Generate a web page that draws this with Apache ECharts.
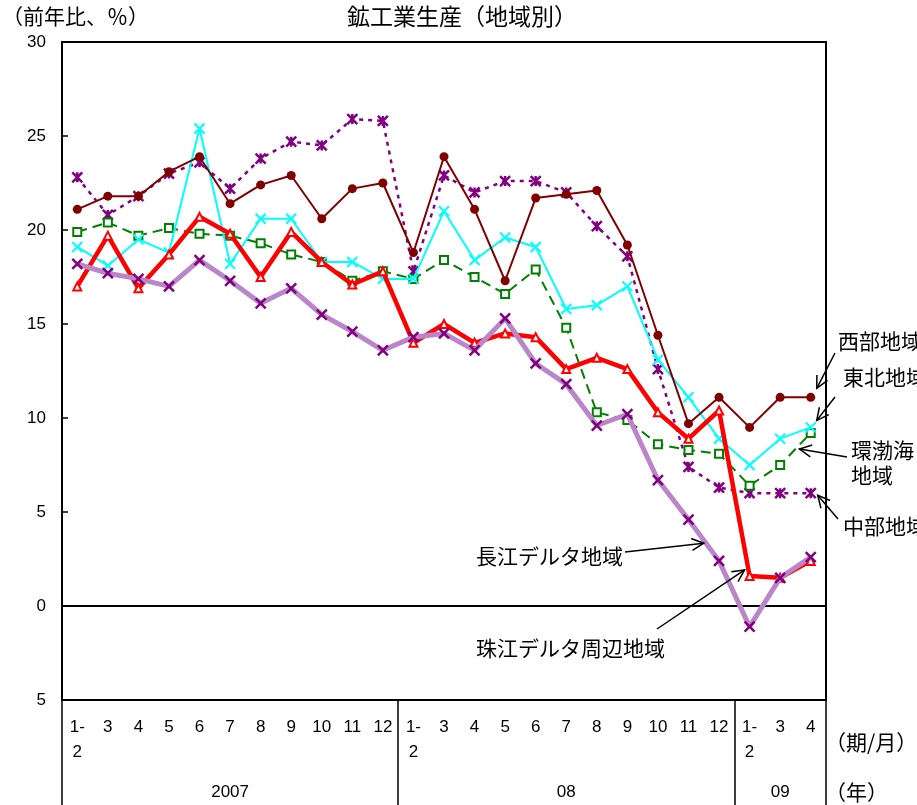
<!DOCTYPE html>
<html><head><meta charset="utf-8">
<script src="https://cdn.jsdelivr.net/npm/echarts@6/dist/echarts.min.js"></script>
<style>html,body{margin:0;padding:0;background:#fff}#c{width:917px;height:805px}</style>
</head><body><div id="c"></div>
<script>
// ---- data ----
const categories = ['1-\n2','3','4','5','6','7','8','9','10','11','12',
                    '1-\n2','3','4','5','6','7','8','9','10','11','12',
                    '1-\n2','3','4'];
const yearNames = ['2007','08','09'];
const yearSpans = [11,11,3];
const west      = [21.1,21.8,21.8,23.1,23.9,21.4,22.4,22.9,20.6,22.2,22.5, 18.8,23.9,21.1,17.3,21.7,21.9,22.1,19.2,14.4,9.7,11.1, 9.5,11.1,11.1];
const northeast = [19.1,18.1,19.5,18.8,25.4,18.2,20.6,20.6,18.3,18.3,17.4, 17.4,21.0,18.4,19.6,19.1,15.8,16.0,17.0,13.1,11.1,8.9, 7.5,8.9,9.5];
const bohai     = [19.9,20.4,19.7,20.1,19.8,19.7,19.3,18.7,18.3,17.3,17.8, 17.4,18.4,17.5,16.6,17.9,14.8,10.3,9.9,8.6,8.3,8.1, 6.4,7.5,9.2];
const central   = [22.8,20.8,21.8,23.0,23.6,22.2,23.8,24.7,24.5,25.9,25.8, 17.8,22.9,22.0,22.6,22.6,22.0,20.2,18.6,12.6,7.4,6.3, 6.0,6.0,6.0];
const yangtze   = [17.0,19.7,16.9,18.7,20.7,19.8,17.5,19.9,18.3,17.1,17.8, 14.0,15.0,14.0,14.5,14.3,12.6,13.2,12.6,10.3,8.9,10.4, 1.6,1.5,2.4];
const pearl     = [18.2,17.7,17.4,17.0,18.4,17.3,16.1,16.9,15.5,14.6,13.6, 14.3,14.5,13.6,15.3,12.9,11.8,9.6,10.2,6.7,4.6,2.4, -1.1,1.5,2.6];
const yMin = -5, yMax = 30, yStep = 5;

// year row of the axis: label at the middle of each group
const yearRow = [];
yearSpans.forEach((n, g) => { for (let i = 0; i < n; i++) yearRow.push(i === Math.floor(n / 2) ? yearNames[g] : ''); });
const groupStarts = [];
yearSpans.reduce((acc, n) => { groupStarts.push(acc); return acc + n; }, 0);

const NUM = "'Liberation Sans', Arial, sans-serif";
const CJK = "'Noto Sans CJK JP', sans-serif";
const X_PATH = 'path://M0,0L10,10M10,0L0,10';
const AST_PATH = 'path://M0,0L10,10M10,0L0,10M5,0L5,10';

const chart = echarts.init(document.getElementById('c'), null, {renderer: 'canvas'});

function lineSeries(name, data, color, width, type, symbol, size, itemStyle, z) {
  return {
    name, type: 'line', data, z,
    showAllSymbol: true, symbol, symbolSize: size,
    lineStyle: {color, width, type},
    itemStyle,
    emphasis: {disabled: true}
  };
}

chart.setOption({
  animation: false,
  grid: {left: 62, right: 91, top: 42, bottom: 105, show: true, borderColor: '#000', borderWidth: 2, backgroundColor: 'transparent'},
  xAxis: [{
    type: 'category', data: categories, boundaryGap: true, position: 'bottom',
    axisLine: {show: true, onZero: false, lineStyle: {color: '#000', width: 2}},
    axisTick: {show: true, inside: false, length: 105, interval: (i) => groupStarts.includes(i), lineStyle: {color: '#000', width: 1.5}},
    axisLabel: {interval: 0, fontFamily: NUM, fontSize: 17, color: '#000', lineHeight: 25, margin: 15},
    splitLine: {show: false}
  }, {
    type: 'category', data: yearRow, boundaryGap: true, position: 'bottom',
    axisLine: {show: false, onZero: false}, axisTick: {show: false},
    axisLabel: {interval: 0, fontFamily: NUM, fontSize: 17, color: '#000', lineHeight: 20, margin: 82},
    splitLine: {show: false}
  }],
  yAxis: {
    type: 'value', min: yMin, max: yMax, interval: yStep,
    axisLine: {show: true, onZero: false, lineStyle: {color: '#000', width: 2}},
    axisTick: {show: true, inside: true, length: 6, lineStyle: {color: '#000', width: 1.5}},
    axisLabel: {fontFamily: NUM, fontSize: 17, color: '#000', margin: 16, formatter: (v) => String(Math.abs(v))},
    splitLine: {show: false}
  },
  series: [
    Object.assign(lineSeries('中部地域', central, '#800080', 2.5, [4, 5], AST_PATH, 10,
      {color: '#800080', borderColor: '#800080', borderWidth: 2.5}, 2), {
      markLine: {silent: true, symbol: 'none', z: 1, label: {show: false},
        lineStyle: {color: '#000', width: 2, type: 'solid'}, data: [{yAxis: 0}]}
    }),
    lineSeries('環渤海地域', bohai, '#008000', 2, [10, 6], 'emptyRect', 8,
      {color: '#008000', borderColor: '#008000', borderWidth: 2}, 3),
    lineSeries('東北地域', northeast, '#00FFFF', 2, 'solid', X_PATH, 10,
      {color: '#00FFFF', borderColor: '#00FFFF', borderWidth: 2}, 4),
    lineSeries('西部地域', west, '#800000', 2, 'solid', 'circle', 9,
      {color: '#800000'}, 5),
    lineSeries('長江デルタ地域', yangtze, '#FF0000', 4.5, 'solid', 'emptyTriangle', 8,
      {color: '#FF0000', borderColor: '#FF0000', borderWidth: 1.5}, 6),
    lineSeries('珠江デルタ周辺地域', pearl, '#BA86C9', 5, 'solid', X_PATH, 10,
      {color: '#800080', borderColor: '#800080', borderWidth: 2.5}, 7)
  ]
});

// ---- annotations (text + arrows anchored to data points) ----
function px(i, v) { return chart.convertToPixel({xAxisIndex: 0, yAxisIndex: 0}, [i, v]); }
function arrow(tail, tip) {
  const dx = tip[0] - tail[0], dy = tip[1] - tail[1];
  const L = Math.hypot(dx, dy), ux = dx / L, uy = dy / L;
  const hl = 12, hw = 6;
  const bx = tip[0] - ux * hl, by = tip[1] - uy * hl;
  return [
    {type: 'line', shape: {x1: tail[0], y1: tail[1], x2: tip[0], y2: tip[1]}, style: {stroke: '#000', lineWidth: 1.5}, z: 20},
    {type: 'polyline', shape: {points: [[bx - uy * hw, by + ux * hw], tip, [bx + uy * hw, by - ux * hw]]}, style: {stroke: '#000', lineWidth: 1.5, fill: null}, z: 20}
  ];
}
function add(p, d) { return [p[0] + d[0], p[1] + d[1]]; }
function mid(a, b) { return [(a[0] + b[0]) / 2, (a[1] + b[1]) / 2]; }
function txt(text, x, y, size, align, lh) {
  return {type: 'text', x, y, z: 20, style: {text, fontFamily: CJK, fontSize: size, fill: '#000', align: align || 'left', verticalAlign: 'middle', lineHeight: lh || size * 1.2}};
}
const n = categories.length;
const g = [];
g.push(txt('鉱工業生産（地域別）', 462, 16, 23, 'center'));
g.push(txt('（前年比、％）', 2, 16, 21, 'left'));
g.push(txt('（期/月）', 825, 742, 21, 'left'));
g.push(txt('（年）', 825, 792, 21, 'left'));
g.push(txt('西部地域', 838, 341, 21));
g.push(txt('東北地域', 843, 377, 21));
g.push(txt('環渤海\n地域', 851, 463, 21, 'left', 25));
g.push(txt('中部地域', 843, 526, 21));
g.push(txt('長江デルタ地域', 476, 556, 21));
g.push(txt('珠江デルタ周辺地域', 476, 648, 21));
g.push(...arrow([835, 353], add(px(n - 1, west[n - 1]), [6, -9])));
g.push(...arrow([835, 397], add(px(n - 1, northeast[n - 1]), [6, -7])));
g.push(...arrow([847, 457], add(mid(px(n - 2, bohai[n - 2]), px(n - 1, bohai[n - 1])), [4, 0])));
g.push(...arrow([838, 519], add(px(n - 1, central[n - 1]), [7, 2])));
g.push(...arrow([625, 552], add(mid(px(20, pearl[20]), px(21, pearl[21])), [0, 3])));
g.push(...arrow([657, 629], add(px(22, yangtze[22]), [-5, -6])));
chart.setOption({graphic: g});
</script>
</body></html>
